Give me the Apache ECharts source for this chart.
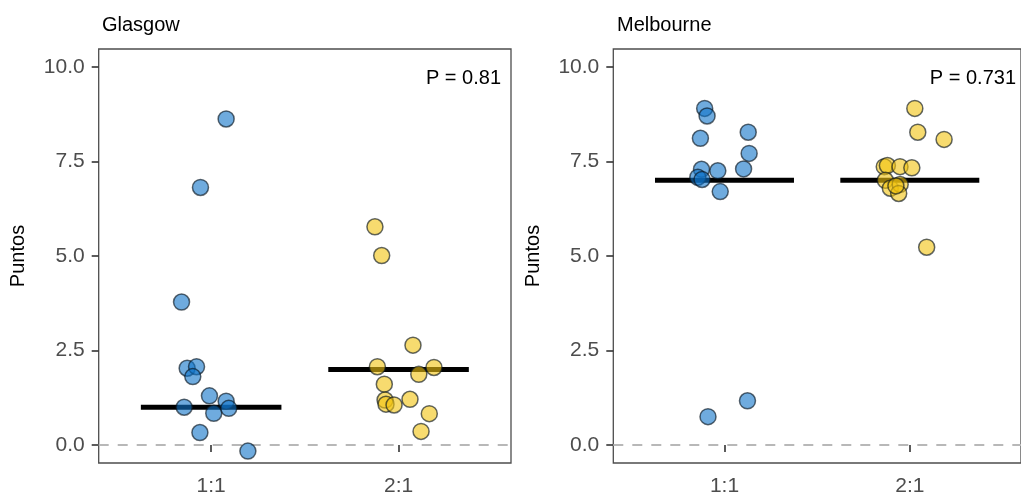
<!DOCTYPE html>
<html>
<head>
<meta charset="utf-8">
<script src="https://cdn.jsdelivr.net/npm/echarts@6/dist/echarts.min.js"></script>
<style>
  html, body { margin: 0; padding: 0; background: #fff; }
  #chart { width: 1021px; height: 497px; }
</style>
</head>
<body>
<div id="chart"></div>
<script>
// categories on the x axis (placed at 1 and 2)
const groups = ['1:1', '2:1']
const yTicks = [0, 2.5, 5, 7.5, 10]
const panels = ['Glasgow', 'Melbourne']
const pValues = ['P = 0.81', 'P = 0.731']

// medians per panel, one per group
const glasgowMedian = [1, 2]
const melbourneMedian = [7, 7]

// points: [jittered x, value]
const glasgow11 = [
  [1.080, 8.62], [0.943, 6.81], [0.842, 3.78], [0.872, 2.03], [0.922, 2.07],
  [0.902, 1.81], [0.991, 1.30], [1.080, 1.16], [0.856, 1.00], [1.014, 0.84],
  [1.094, 0.97], [0.940, 0.33], [1.196, -0.16]
]
const glasgow21 = [
  [1.874, 5.77], [1.910, 5.01], [2.077, 2.64], [1.887, 2.07], [2.189, 2.05],
  [2.108, 1.87], [1.924, 1.61], [1.928, 1.19], [1.933, 1.08], [1.976, 1.06],
  [2.061, 1.21], [2.164, 0.83], [2.120, 0.36]
]
const melbourne11 = [
  [0.893, 8.90], [0.906, 8.70], [0.870, 8.11], [1.128, 8.27], [1.133, 7.71],
  [0.876, 7.29], [0.964, 7.25], [1.103, 7.30], [0.856, 7.08], [0.879, 7.02],
  [0.977, 6.70], [1.124, 1.17], [0.911, 0.75]
]
const melbourne21 = [
  [2.027, 8.90], [2.043, 8.27], [2.185, 8.08], [1.862, 7.36], [1.879, 7.39],
  [1.947, 7.36], [2.011, 7.33], [1.868, 7.00], [1.895, 6.79], [1.948, 6.89],
  [1.940, 6.65], [1.925, 6.85], [2.091, 5.23]
]

const font = 'Liberation Sans, Arial, sans-serif'
const blue = 'rgba(15, 115, 200, 0.75)'
const yellow = 'rgba(242, 195, 15, 0.75)'
const halfWidth = 0.375

const chart = echarts.init(document.getElementById('chart'), null, { renderer: 'canvas' })

function xAxis (i) {
  return {
    gridIndex: i,
    type: 'value',
    min: 0.4,
    max: 2.6,
    splitLine: { show: false },
    axisLine: { show: false },
    axisTick: { show: true, customValues: [1, 2], length: 7, lineStyle: { color: '#333', width: 1.6 } },
    axisLabel: {
      customValues: [1, 2],
      formatter: v => groups[Math.round(v) - 1],
      fontFamily: font,
      fontSize: 21,
      color: '#4d4d4d',
      margin: 13
    }
  }
}

function yAxis (i) {
  return {
    gridIndex: i,
    type: 'value',
    min: -0.475,
    max: 10.47,
    name: 'Puntos',
    nameLocation: 'middle',
    nameRotate: 90,
    nameGap: 70,
    nameTextStyle: { fontFamily: font, fontSize: 20, color: '#000' },
    splitLine: { show: false },
    axisLine: { show: false },
    axisTick: { show: true, customValues: yTicks, length: 7, lineStyle: { color: '#333', width: 1.6 } },
    axisLabel: {
      customValues: yTicks,
      formatter: v => v.toFixed(1),
      fontFamily: font,
      fontSize: 21,
      color: '#4d4d4d',
      margin: 14
    }
  }
}

function points (data, i, color) {
  return {
    type: 'scatter',
    xAxisIndex: i,
    yAxisIndex: i,
    data: data,
    symbolSize: 16,
    z: 5,
    itemStyle: { color: color, borderColor: 'rgba(10, 20, 30, 0.8)', borderWidth: 1.5 }
  }
}

function medianLine (median, g, i) {
  const x = g + 1
  return {
    type: 'line',
    xAxisIndex: i,
    yAxisIndex: i,
    data: [[x - halfWidth, median], [x + halfWidth, median]],
    symbol: 'none',
    z: 3,
    lineStyle: { color: '#000', width: 5 }
  }
}

function zeroLine (i) {
  return {
    type: 'line',
    xAxisIndex: i,
    yAxisIndex: i,
    data: [],
    z: 1,
    markLine: {
      silent: true,
      symbol: 'none',
      label: { show: false },
      lineStyle: { color: '#b8b8b8', type: [10, 9], width: 2 },
      data: [{ yAxis: 0 }]
    }
  }
}

const option = {
  animation: false,
  backgroundColor: '#fff',
  title: [
    { text: panels[0], left: 97, top: 10, textStyle: { fontFamily: font, fontSize: 20, fontWeight: 'normal', color: '#000' } },
    { text: panels[1], left: 612, top: 10, textStyle: { fontFamily: font, fontSize: 20, fontWeight: 'normal', color: '#000' } }
  ],
  grid: [
    { left: 98.7, right: 510, top: 49, bottom: 34, show: true, borderColor: '#4d4d4d', borderWidth: 1.3, backgroundColor: 'transparent' },
    { left: 613.3, right: -6, top: 49, bottom: 34, show: true, borderColor: '#4d4d4d', borderWidth: 1.3, backgroundColor: 'transparent' }
  ],
  xAxis: [xAxis(0), xAxis(1)],
  yAxis: [yAxis(0), yAxis(1)],
  graphic: [
    { type: 'text', x: 501, y: 78, style: { text: pValues[0], align: 'right', verticalAlign: 'middle', font: '20px ' + font, fill: '#000' } },
    { type: 'text', x: 1016, y: 78, style: { text: pValues[1], align: 'right', verticalAlign: 'middle', font: '20px ' + font, fill: '#000' } }
  ],
  series: [
    zeroLine(0),
    zeroLine(1),
    medianLine(glasgowMedian[0], 0, 0),
    medianLine(glasgowMedian[1], 1, 0),
    medianLine(melbourneMedian[0], 0, 1),
    medianLine(melbourneMedian[1], 1, 1),
    points(glasgow11, 0, blue),
    points(glasgow21, 0, yellow),
    points(melbourne11, 1, blue),
    points(melbourne21, 1, yellow)
  ]
}

chart.setOption(option)
</script>
</body>
</html>
